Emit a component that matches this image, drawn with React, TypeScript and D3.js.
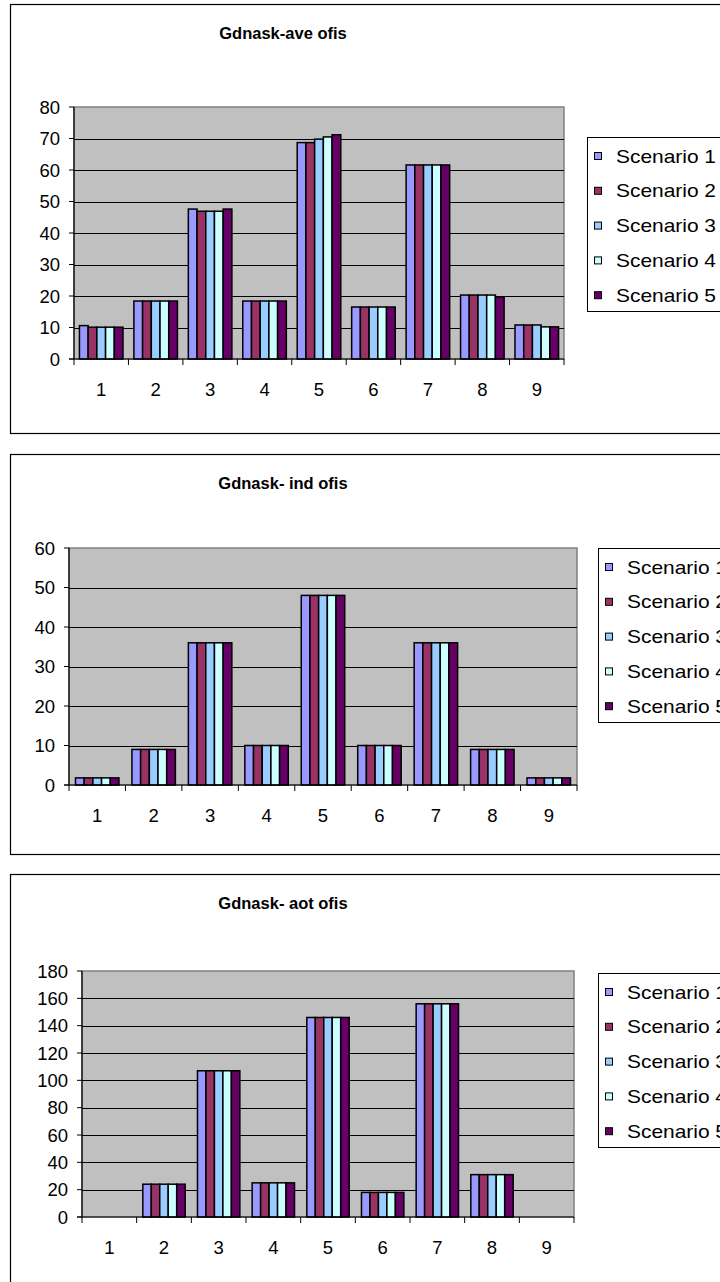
import React from "react";
import * as d3 from "d3";

// Category labels along the x axis and the scenario names in the legend
const categories = ["1", "2", "3", "4", "5", "6", "7", "8", "9"];
const scenarioNames = ["Scenario 1", "Scenario 2", "Scenario 3", "Scenario 4", "Scenario 5"];

// Gdnask-ave ofis, one array per scenario
const aveScenario1 = [10.6, 18.4, 47.6, 18.4, 68.7, 16.5, 61.6, 20.3, 10.8];
const aveScenario2 = [10.1, 18.4, 46.9, 18.4, 68.7, 16.5, 61.6, 20.3, 10.8];
const aveScenario3 = [10.1, 18.4, 46.9, 18.4, 69.8, 16.5, 61.6, 20.3, 10.8];
const aveScenario4 = [10.1, 18.4, 46.9, 18.4, 70.5, 16.5, 61.6, 20.3, 10.2];
const aveScenario5 = [10.1, 18.4, 47.6, 18.4, 71.2, 16.5, 61.6, 19.7, 10.2];

// Gdnask- ind ofis
const indScenario1 = [1.8, 9, 36, 10, 48, 10, 36, 9, 1.8];
const indScenario2 = [1.8, 9, 36, 10, 48, 10, 36, 9, 1.8];
const indScenario3 = [1.8, 9, 36, 10, 48, 10, 36, 9, 1.8];
const indScenario4 = [1.8, 9, 36, 10, 48, 10, 36, 9, 1.8];
const indScenario5 = [1.8, 9, 36, 10, 48, 10, 36, 9, 1.8];

// Gdnask- aot ofis
const aotScenario1 = [0, 24, 107, 25, 146, 18, 156, 31, 0];
const aotScenario2 = [0, 24, 107, 25, 146, 18, 156, 31, 0];
const aotScenario3 = [0, 24, 107, 25, 146, 18, 156, 31, 0];
const aotScenario4 = [0, 24, 107, 25, 146, 18, 156, 31, 0];
const aotScenario5 = [0, 24, 107, 25, 146, 18, 156, 31, 0];

// Value axis ticks for each chart
const aveTicks = [0, 10, 20, 30, 40, 50, 60, 70, 80];
const indTicks = [0, 10, 20, 30, 40, 50, 60];
const aotTicks = [0, 20, 40, 60, 80, 100, 120, 140, 160, 180];

const seriesColors = ["#9999FF", "#993366", "#99CCFF", "#CCFFFF", "#660066"];
const FONT = "'Liberation Sans', Arial, Helvetica, sans-serif";

type Layout = {
  frameTop: number;
  frameHeight: number;
  titleY: number;
  plot: { l: number; r: number; t: number; b: number };
  legendX: number;
  legendY: number;
  groupFrac: number;
};

type ChartProps = {
  title: string;
  series: number[][];
  ticks: number[];
  layout: Layout;
};

function BarChart({ title, series, ticks, layout }: ChartProps) {
  const { plot } = layout;
  const x = d3.scaleBand<string>().domain(categories).range([plot.l, plot.r]).padding(0);
  const y = d3
    .scaleLinear()
    .domain([0, ticks[ticks.length - 1]])
    .range([plot.b, plot.t]);

  const groupW = x.bandwidth() * layout.groupFrac;
  const inner = d3
    .scaleBand<number>()
    .domain(d3.range(series.length))
    .range([0, groupW])
    .padding(0);

  const boundaries = [...categories.map((c) => x(c) as number), plot.r];
  const legendTop = layout.legendY;
  const rowH = 34.8;

  return (
    <g>
      {/* chart area frame */}
      <rect
        x={10.5}
        y={layout.frameTop + 0.5}
        width={760}
        height={layout.frameHeight}
        fill="#FFFFFF"
        stroke="#000"
        strokeWidth={1.2}
      />
      <text
        x={283}
        y={layout.titleY}
        textAnchor="middle"
        fontFamily={FONT}
        fontWeight="bold"
        fontSize={16.5}
        fill="#000"
      >
        {title}
      </text>

      {/* plot area */}
      <rect
        x={plot.l}
        y={plot.t}
        width={plot.r - plot.l}
        height={plot.b - plot.t}
        fill="#C0C0C0"
        stroke="#808080"
        strokeWidth={1.5}
      />
      {ticks.slice(1, -1).map((t) => (
        <line
          key={"g" + t}
          x1={plot.l}
          x2={plot.r}
          y1={Math.round(y(t)) + 0.5}
          y2={Math.round(y(t)) + 0.5}
          stroke="#000"
          strokeWidth={1}
        />
      ))}

      {/* bars */}
      {categories.map((c, ci) => {
        const gx = (x(c) as number) + (x.bandwidth() - groupW) / 2;
        return series.map((vals, si) => {
          const v = vals[ci];
          if (v <= 0) return null;
          const top = y(v);
          return (
            <rect
              key={c + "-" + si}
              x={gx + (inner(si) as number)}
              y={top}
              width={inner.bandwidth()}
              height={y(0) - top}
              fill={seriesColors[si]}
              stroke="#000"
              strokeWidth={1.5}
            />
          );
        });
      })}

      {/* value axis */}
      <line x1={plot.l} x2={plot.l} y1={plot.t} y2={plot.b} stroke="#000" strokeWidth={1.2} />
      {ticks.map((t) => (
        <g key={"y" + t}>
          <line x1={plot.l - 5} x2={plot.l} y1={y(t)} y2={y(t)} stroke="#000" strokeWidth={1} />
          <text
            x={plot.l - 14}
            y={y(t)}
            dy="0.36em"
            textAnchor="end"
            fontFamily={FONT}
            fontSize={18.5}
            fill="#000"
          >
            {t}
          </text>
        </g>
      ))}

      {/* category axis */}
      <line x1={plot.l - 5} x2={plot.r} y1={plot.b} y2={plot.b} stroke="#000" strokeWidth={1.2} />
      {boundaries.map((bx, i) => (
        <line key={"xt" + i} x1={bx} x2={bx} y1={plot.b} y2={plot.b + 6} stroke="#000" strokeWidth={1} />
      ))}
      {categories.map((c) => (
        <text
          key={"xl" + c}
          x={(x(c) as number) + x.bandwidth() / 2}
          y={plot.b + 37}
          textAnchor="middle"
          fontFamily={FONT}
          fontSize={18.5}
          fill="#000"
        >
          {c}
        </text>
      ))}

      {/* legend */}
      <rect
        x={layout.legendX + 0.5}
        y={legendTop + 0.5}
        width={200}
        height={174}
        fill="#FFFFFF"
        stroke="#000"
        strokeWidth={1}
      />
      {scenarioNames.map((name, i) => {
        const cy = legendTop + 19 + i * rowH;
        return (
          <g key={name}>
            <rect
              x={layout.legendX + 7.5}
              y={cy - 3.5}
              width={7}
              height={7}
              fill={seriesColors[i]}
              stroke="#000"
              strokeWidth={1}
            />
            <text
              x={layout.legendX + 29}
              y={cy + 6.5}
              fontFamily={FONT}
              fontSize={18.5}
              textLength={100}
              lengthAdjust="spacingAndGlyphs"
              fill="#000"
            >
              {name}
            </text>
          </g>
        );
      })}
    </g>
  );
}

const aveLayout: Layout = {
  frameTop: 4,
  frameHeight: 429,
  titleY: 39,
  plot: { l: 74, r: 564, t: 107, b: 359 },
  legendX: 587,
  legendY: 137,
  groupFrac: 0.8,
};

const indLayout: Layout = {
  frameTop: 454,
  frameHeight: 400,
  titleY: 489,
  plot: { l: 69, r: 577, t: 548, b: 785 },
  legendX: 598,
  legendY: 548,
  groupFrac: 0.77,
};

const aotLayout: Layout = {
  frameTop: 874,
  frameHeight: 500,
  titleY: 909,
  plot: { l: 82, r: 574, t: 971, b: 1217 },
  legendX: 598,
  legendY: 973,
  groupFrac: 0.775,
};

export default function App() {
  return (
    <svg
      width={720}
      height={1282}
      viewBox="0 0 720 1282"
      style={{ position: "absolute", left: 0, top: 0, display: "block", background: "#fff" }}
    >
      <rect x={0} y={0} width={720} height={1282} fill="#FFFFFF" />
      <BarChart
        title="Gdnask-ave ofis"
        series={[aveScenario1, aveScenario2, aveScenario3, aveScenario4, aveScenario5]}
        ticks={aveTicks}
        layout={aveLayout}
      />
      <BarChart
        title="Gdnask- ind ofis"
        series={[indScenario1, indScenario2, indScenario3, indScenario4, indScenario5]}
        ticks={indTicks}
        layout={indLayout}
      />
      <BarChart
        title="Gdnask- aot ofis"
        series={[aotScenario1, aotScenario2, aotScenario3, aotScenario4, aotScenario5]}
        ticks={aotTicks}
        layout={aotLayout}
      />
    </svg>
  );
}
